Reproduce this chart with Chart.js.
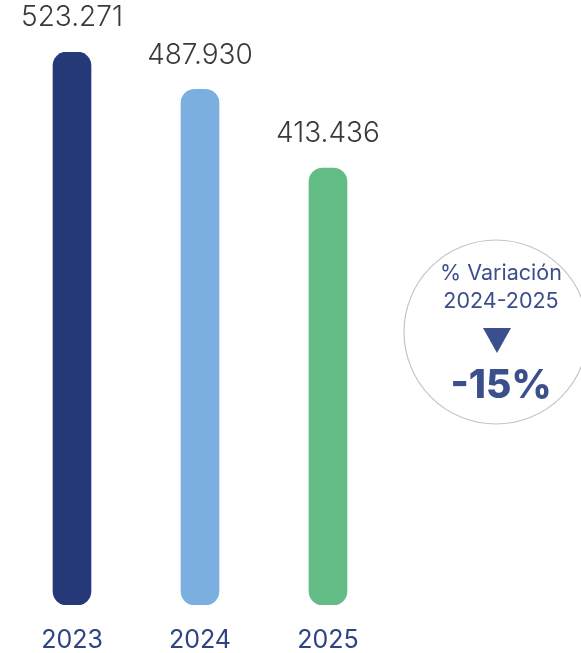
<!DOCTYPE html>
<html>
<head>
<meta charset="utf-8">
<script src="https://cdn.jsdelivr.net/npm/chart.js@4"></script>
<style>
  html, body { margin: 0; padding: 0; background: #fff; }
  #wrap { width: 581px; height: 653px; position: relative; }
</style>
</head>
<body>
<div id="wrap"><canvas id="myChart"></canvas></div>
<script>
const years = ['2023', '2024', '2025'];
const totals = [523271, 487930, 413436];
const barColors = ['#253878', '#7aafdf', '#63bb85'];
const badgeLines = ['% Variación', '2024-2025'];
const badgeValue = '-15%';

const fmt = v => String(v).replace(/\B(?=(\d{3})+(?!\d))/g, '.');

// value labels on top of the bars
const valueLabels = {
  id: 'valueLabels',
  afterDatasetsDraw(chart) {
    const c = chart.ctx;
    const meta = chart.getDatasetMeta(0);
    c.save();
    c.font = '300 28px Inter';
    c.fillStyle = '#3a3a3a';
    c.textAlign = 'center';
    c.textBaseline = 'middle';
    meta.data.forEach((bar, i) => {
      c.fillText(fmt(totals[i]), bar.x, bar.y - 34);
    });
    c.restore();
  }
};

// circle with the variation
const badge = {
  id: 'badge',
  afterDraw(chart) {
    const c = chart.ctx;
    const cx = 496, cy = 332, r = 92;
    c.save();
    c.beginPath();
    c.arc(cx, cy, r, 0, Math.PI * 2);
    c.fillStyle = '#fff';
    c.fill();
    c.lineWidth = 1.2;
    c.strokeStyle = '#c4c4c4';
    c.stroke();
    c.fillStyle = '#3b4f8c';
    c.textAlign = 'center';
    c.textBaseline = 'middle';
    c.font = '400 21.5px Inter';
    c.fillText(badgeLines[0], cx + 5, 274);
    c.fillText(badgeLines[1], cx + 5, 302);
    c.beginPath();
    c.moveTo(cx - 13, 328);
    c.lineTo(cx + 15, 328);
    c.lineTo(cx + 1, 353);
    c.closePath();
    c.fill();
    c.font = '800 39px Inter';
    c.fillText(badgeValue, cx + 5, 386);
    c.restore();
  }
};

new Chart(document.getElementById('myChart'), {
  type: 'bar',
  data: {
    labels: years,
    datasets: [{
      data: totals,
      backgroundColor: barColors,
      barThickness: 38,
      borderRadius: 14,
      borderSkipped: false
    }]
  },
  options: {
    responsive: true,
    maintainAspectRatio: false,
    animation: false,
    layout: { padding: { top: 52, left: 8, right: 189, bottom: 0 } },
    plugins: { legend: { display: false }, tooltip: { enabled: false } },
    scales: {
      y: { display: false, min: 0, max: 523271 },
      x: {
        grid: { display: false, drawTicks: false },
        border: { display: false },
        ticks: { color: '#2e4384', font: { family: 'Inter', size: 25, weight: '400' }, padding: 20 },
        afterFit(scale) { scale.height = 48; }
      }
    }
  },
  plugins: [valueLabels, badge]
});
</script>
</body>
</html>
